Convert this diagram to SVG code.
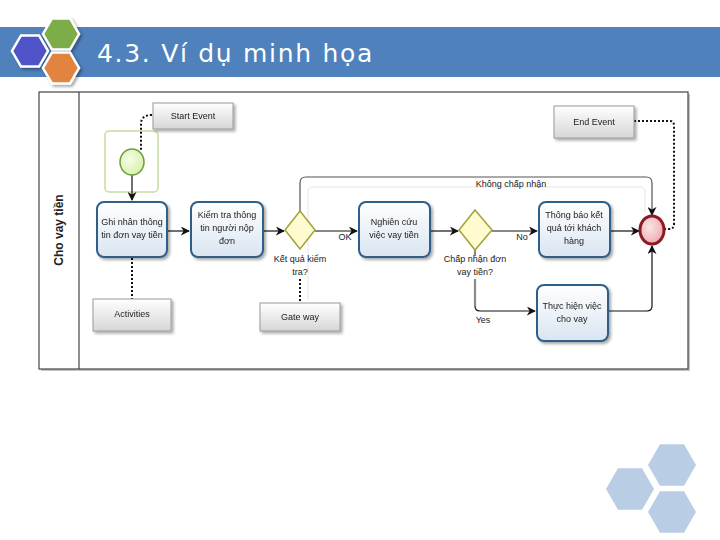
<svg xmlns="http://www.w3.org/2000/svg" width="720" height="540" viewBox="0 0 720 540">
<defs>
<linearGradient id="gTask" x1="0" y1="0" x2="0" y2="1"><stop offset="0" stop-color="#ffffff"/><stop offset="1" stop-color="#d9e5f1"/></linearGradient>
<linearGradient id="gNote" x1="0" y1="0" x2="0" y2="1"><stop offset="0" stop-color="#ffffff"/><stop offset="1" stop-color="#d6d6d6"/></linearGradient>
<radialGradient id="gEnd" cx="0.4" cy="0.4" r="0.7"><stop offset="0" stop-color="#fbe4e5"/><stop offset="1" stop-color="#eba5aa"/></radialGradient>
<radialGradient id="gStart" cx="0.4" cy="0.4" r="0.7"><stop offset="0" stop-color="#f6fde6"/><stop offset="1" stop-color="#d5efa8"/></radialGradient>
<marker id="arr" viewBox="0 0 10 10" refX="9" refY="5" markerWidth="9" markerHeight="9" markerUnits="userSpaceOnUse" orient="auto"><path d="M0,0 L10,5 L0,10 L3,5 z" fill="#111"/></marker>
<polygon id="hexS" points="18,0 9,15.6 -9,15.6 -18,0 -9,-15.6 9,-15.6"/>
<polygon id="hexL" points="24,0 12,20.8 -12,20.8 -24,0 -12,-20.8 12,-20.8"/>
<filter id="sh" x="-20%" y="-20%" width="150%" height="150%"><feGaussianBlur in="SourceAlpha" stdDeviation="1.5"/><feOffset dx="2" dy="2"/><feComponentTransfer><feFuncA type="linear" slope="0.35"/></feComponentTransfer><feMerge><feMergeNode/><feMergeNode in="SourceGraphic"/></feMerge></filter>
</defs>
<style>
.task{fill:url(#gTask);stroke:#2f5f8a;stroke-width:2}
.note{fill:url(#gNote);stroke:#9a9a9a;stroke-width:1}
.gw{fill:#fffbd0;stroke:#a3a33a;stroke-width:1.5}
.t{font-family:"Liberation Sans",Arial,sans-serif;font-size:9px;fill:#222;text-anchor:middle}
.flow{fill:none;stroke:#111;stroke-width:1.2}
.dot{fill:none;stroke:#111;stroke-width:2;stroke-dasharray:2,2}
</style>
<rect width="720" height="540" fill="#ffffff"/>
<!-- header -->
<g id="header">
<rect x="0" y="27" width="720" height="50" fill="#4f81bd"/>
<g stroke="#ffffff" stroke-width="2.5" filter="url(#sh)">
<use href="#hexS" x="61" y="34" fill="#7cad4a"/>
<use href="#hexS" x="61" y="68" fill="#e2843f"/>
<use href="#hexS" x="30" y="51" fill="#4f52c8"/>
</g>
<text x="97" y="62" font-family="'DejaVu Sans',Verdana,sans-serif" font-size="25" fill="#ffffff" letter-spacing="1.7">4.3. Ví dụ minh họa</text>
</g>
<g id="deco" fill="#b9cde5">
<use href="#hexL" x="672" y="465"/>
<use href="#hexL" x="630" y="489"/>
<use href="#hexL" x="672" y="512"/>
</g>
<!-- pool -->
<g id="pool">
<rect x="41" y="94" width="649" height="277" fill="#c4c4c4"/>
<rect x="39" y="92" width="649" height="277" fill="#ffffff" stroke="#444" stroke-width="1.2"/>
<line x1="79" y1="92" x2="79" y2="369" stroke="#444" stroke-width="1.2"/>
<text transform="translate(63,230) rotate(-90)" font-family="'Liberation Sans',Arial,sans-serif" font-size="12" font-weight="bold" fill="#222" text-anchor="middle">Cho vay tiền</text>
<path d="M308,300 L308,192 Q308,187 313,187 L640,187 Q645,187 645,192 L645,212" fill="none" stroke="#e6e6e6" stroke-width="1"/>
<rect x="105" y="131" width="53" height="61" rx="4" fill="none" stroke="#c5dca0" stroke-width="1.5"/>
</g>
<!-- connectors -->
<g id="connectors">
<path class="dot" d="M152,115 Q141,115 141,124 L141,150"/>
<path class="dot" d="M132,258 L132,299"/>
<path class="dot" d="M300,279 L300,303"/>
<path class="dot" d="M634,121 L670,121 Q674,121 674,126 L674,224 Q674,229 669,229 L665,229"/>
<path class="flow" d="M132,175 L132,200" marker-end="url(#arr)"/>
<path class="flow" d="M167,231 L189,231" marker-end="url(#arr)"/>
<path class="flow" d="M263,231 L284,231" marker-end="url(#arr)"/>
<path class="flow" d="M315,231 L357,231" marker-end="url(#arr)"/>
<path class="flow" d="M430,231 L458,231" marker-end="url(#arr)"/>
<path class="flow" d="M492,231 L537,231" marker-end="url(#arr)"/>
<path class="flow" d="M610,231 L639,231" marker-end="url(#arr)"/>
<path d="M300,211 L300,183 Q300,177 306,177 L646,177 Q652,177 652,183 L652,215" fill="none" stroke="#555" stroke-width="1.2" marker-end="url(#arr)"/>
<path d="M475,250 L475,256 M475,279 L475,306" fill="none" stroke="#8a8a8a" stroke-width="2.2"/>
<path class="flow" d="M475,306 Q475,311 480,311 L535,311" marker-end="url(#arr)"/>
<path class="flow" d="M608,311 L647,311 Q652,311 652,306 L652,246" marker-end="url(#arr)"/>
<text class="t" x="345" y="240">OK</text>
<text class="t" x="522" y="240">No</text>
<text class="t" x="483" y="323">Yes</text>
<text class="t" x="511" y="187">Không chấp nhận</text>
</g>
<!-- nodes -->
<g id="startEvent"><ellipse cx="132" cy="162" rx="12" ry="13" fill="url(#gStart)" stroke="#6f9e3c" stroke-width="1.5"/></g>
<g id="endEvent"><ellipse cx="652" cy="230" rx="12" ry="14" fill="url(#gEnd)" stroke="#8b1a22" stroke-width="3"/></g>
<g id="noteStart" filter="url(#sh)"><rect class="note" x="153" y="103" width="80" height="26"/><text class="t" x="193" y="119">Start Event</text></g>
<g id="noteEnd" filter="url(#sh)"><rect class="note" x="554" y="106" width="80" height="32"/><text class="t" x="594" y="125">End Event</text></g>
<g id="noteActivities" filter="url(#sh)"><rect class="note" x="93" y="299" width="78" height="32"/><text class="t" x="132" y="317">Activities</text></g>
<g id="noteGateway" filter="url(#sh)"><rect class="note" x="260" y="303" width="80" height="28"/><text class="t" x="300" y="320">Gate way</text></g>
<g id="task1" filter="url(#sh)"><rect class="task" x="97" y="202" width="70" height="55" rx="7"/><text class="t" x="132" y="225">Ghi nhân thông</text><text class="t" x="132" y="238">tin đơn vay tiền</text></g>
<g id="task2" filter="url(#sh)"><rect class="task" x="191" y="202" width="72" height="55" rx="7"/><text class="t" x="227" y="218">Kiểm tra thông</text><text class="t" x="227" y="231">tin người nộp</text><text class="t" x="227" y="244">đơn</text></g>
<g id="gateway1"><polygon class="gw" points="300,211 315,230 300,249 285,230"/><text class="t" x="300" y="262">Kết quả kiểm</text><text class="t" x="300" y="275">tra?</text></g>
<g id="task3" filter="url(#sh)"><rect class="task" x="359" y="202" width="71" height="55" rx="7"/><text class="t" x="394" y="225">Nghiên cứu</text><text class="t" x="394" y="238">việc vay tiền</text></g>
<g id="gateway2"><polygon class="gw" points="475,210 492,230 475,250 459,230"/><text class="t" x="475" y="262">Chấp nhận đơn</text><text class="t" x="475" y="275">vay tiền?</text></g>
<g id="task4" filter="url(#sh)"><rect class="task" x="539" y="202" width="71" height="55" rx="7"/><text class="t" x="574" y="218">Thông báo kết</text><text class="t" x="574" y="231">quả tới khách</text><text class="t" x="574" y="244">hàng</text></g>
<g id="task5" filter="url(#sh)"><rect class="task" x="537" y="285" width="71" height="56" rx="7"/><text class="t" x="572" y="309">Thực hiện việc</text><text class="t" x="572" y="322">cho vay</text></g>
</svg>
